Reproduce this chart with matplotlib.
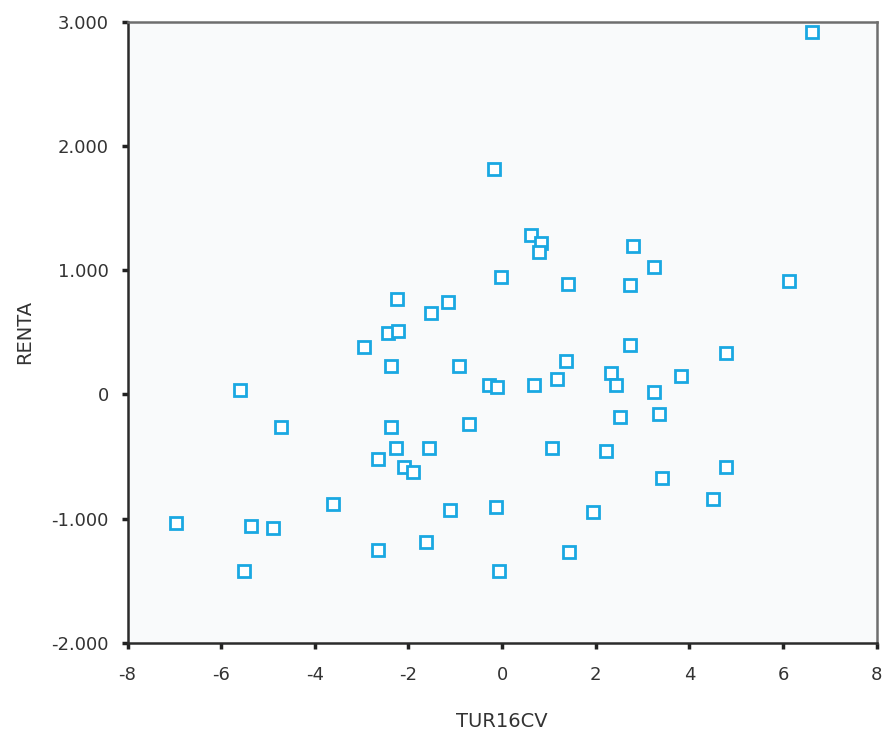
import matplotlib
matplotlib.use("Agg")
import matplotlib.pyplot as plt
from matplotlib.ticker import FuncFormatter

plt.rcParams["axes.unicode_minus"] = False

# ── Data ──────────────────────────────────────────────────────────────────
tur16cv = [
    -0.18, -0.02, -2.24, -1.51, -1.16, -2.44, -2.22, 6.62, 0.62, 0.84,
    0.78, 2.79, 3.24, 1.41, 2.73, 6.12, -2.94, -2.37, -0.93, -0.29,
    -0.12, -5.59, -4.72, -2.37, -0.71, -2.26, -1.57, -2.66, -2.09, -1.90,
    -3.62, -1.12, -0.13, -6.96, -5.36, -4.90, -1.62, -2.66, -5.52, -0.07,
    2.73, 4.79, 1.36, 1.18, 0.68, 2.33, 2.44, 3.81, 3.24, 3.36,
    2.51, 1.07, 2.21, 4.79, 3.42, 4.50, 1.93, 1.42,
]
renta = [
    1816, 942, 769, 656, 745, 496, 509, 2914, 1280, 1219,
    1146, 1192, 1026, 892, 878, 916, 380, 230, 230, 80,
    62, 35, -263, -263, -241, -434, -434, -517, -584, -627,
    -884, -927, -905, -1034, -1055, -1077, -1184, -1248, -1420, -1420,
    402, 337, 273, 121, 80, 169, 80, 145, 16, -155,
    -179, -434, -455, -584, -669, -841, -948, -1269,
]
x_ticks = [-8, -6, -4, -2, 0, 2, 4, 6, 8]
y_ticks = [-2000, -1000, 0, 1000, 2000, 3000]

# ── Style ──────────────────────────────────────────────────────────────────
C_PT = "#1aa8e2"
C_BG = "#f9fafb"
C_TXT = "#333333"

fig = plt.figure(figsize=(8.91, 7.33), dpi=100)
ax = fig.add_axes([0.1431, 0.1228, 0.8409, 0.8476])
ax.set_facecolor(C_BG)

ax.plot(tur16cv, renta, linestyle="none", marker="s", markersize=8,
        markerfacecolor="white", markeredgecolor=C_PT, markeredgewidth=2.0)

ax.set_xlim(-8, 8)
ax.set_ylim(-2000, 3000)
ax.set_xticks(x_ticks)
ax.set_yticks(y_ticks)
ax.yaxis.set_major_formatter(
    FuncFormatter(lambda v, _: f"{int(v):,}".replace(",", ".")))

for side in ("left", "bottom"):
    ax.spines[side].set_color("#2b2b2b")
    ax.spines[side].set_linewidth(1.8)
for side in ("top", "right"):
    ax.spines[side].set_color("#6e6e6e")
    ax.spines[side].set_linewidth(1.8)

ax.tick_params(axis="both", direction="out", length=4.5, width=2.5,
               color="#222222", labelsize=13, labelcolor=C_TXT)
ax.tick_params(axis="y", pad=9)
ax.tick_params(axis="x", pad=12)

ax.set_xlabel("TUR16CV", fontsize=14, color=C_TXT, labelpad=20)
ax.set_ylabel("RENTA", fontsize=14, color=C_TXT, labelpad=12)

fig.savefig("out.png", dpi=100)
